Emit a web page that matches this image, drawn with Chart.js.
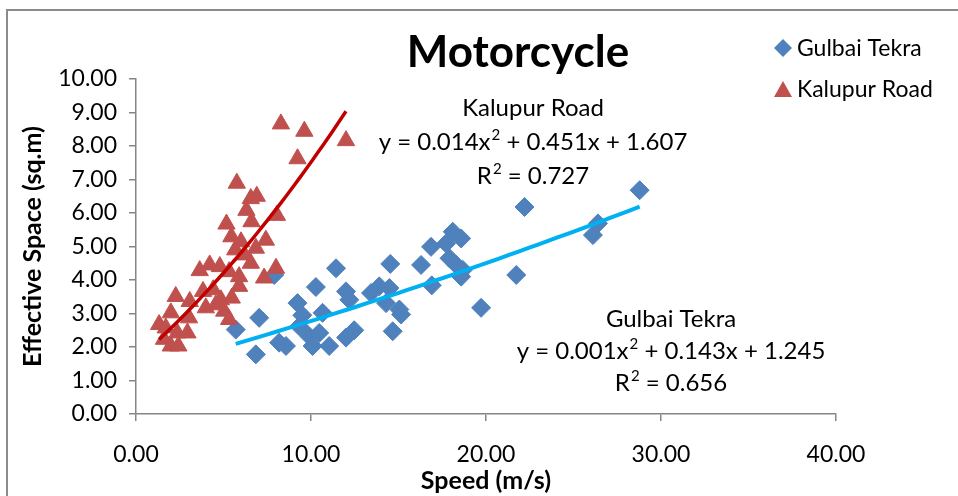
<!DOCTYPE html>
<html>
<head>
<meta charset="utf-8">
<title>Motorcycle</title>
<script src="https://cdn.jsdelivr.net/npm/chart.js@4.4.0/dist/chart.umd.min.js"></script>
<style>
  html, body { margin: 0; padding: 0; background: #fff; }
  #wrap { width: 958px; height: 496px; position: relative; }
</style>
</head>
<body>
<div id="wrap"><canvas id="chart" width="958" height="496"></canvas></div>
<script>
// Gulbai Tekra observations: speed (m/s) and effective space (sq.m)
const gulbaiSpeed = [5.70, 6.85, 7.04, 7.90, 8.18, 8.57, 9.23, 9.50, 9.33, 9.90, 10.09, 10.28, 10.47, 10.66, 11.04,
  11.43, 12.00, 12.19, 12.00, 12.47, 13.43, 13.90, 14.48, 14.29, 14.53, 14.67, 15.05, 15.15, 16.29, 16.86,
  16.90, 17.72, 17.91, 18.10, 18.30, 18.58, 18.68, 18.58, 19.72, 21.73, 22.20, 26.11, 26.40, 28.78];
const gulbaiSpace = [2.52, 1.78, 2.87, 4.15, 2.13, 2.03, 3.31, 2.95, 2.62, 2.32, 2.03, 3.79, 2.42, 3.02, 2.03,
  4.35, 3.66, 3.41, 2.28, 2.50, 3.61, 3.81, 3.76, 3.31, 4.48, 2.47, 3.12, 2.97, 4.45, 4.99,
  3.84, 5.09, 4.65, 5.44, 4.45, 5.24, 4.30, 4.10, 3.17, 4.15, 6.18, 5.34, 5.69, 6.68];

// Kalupur Road observations
const kalupurSpeed = [8.28, 9.62, 12.00, 9.23, 5.76, 6.56, 6.90, 6.31, 8.05, 6.60, 5.17, 5.45, 6.00, 7.42, 6.85,
  5.67, 6.20, 6.56, 8.00, 7.32, 4.21, 3.64, 4.79, 5.32, 5.89, 3.83, 4.41, 4.85, 5.47, 5.89,
  2.27, 3.07, 3.99, 4.56, 5.04, 5.32, 1.99, 3.03, 1.32, 1.70, 2.36, 2.94, 1.60, 1.99, 2.42];
const kalupurSpace = [8.66, 8.44, 8.16, 7.62, 6.89, 6.43, 6.50, 6.08, 5.93, 5.74, 5.67, 5.29, 5.14, 5.19, 4.95,
  4.90, 4.75, 4.50, 4.35, 4.06, 4.45, 4.28, 4.40, 4.25, 4.10, 3.66, 3.71, 3.41, 3.46, 3.81,
  3.51, 3.36, 3.17, 3.26, 3.07, 2.82, 3.02, 2.87, 2.67, 2.57, 2.42, 2.42, 2.23, 2.03, 2.03];

// polynomial trend lines: [c2, c1, c0] and the speed range they cover
const gulbaiFit = [0.001, 0.143, 1.245];
const gulbaiFitRange = [5.70, 28.78];
const kalupurFit = [0.014, 0.451, 1.607];
const kalupurFitRange = [1.32, 12.00];

const xTicks = [0, 10, 20, 30, 40];
const yTicks = [0, 1, 2, 3, 4, 5, 6, 7, 8, 9, 10];

// "^2" marks a superscript two
const gulbaiLabel = ['Gulbai Tekra', 'y = 0.001x^2 + 0.143x + 1.245', 'R^2 = 0.656'];
const kalupurLabel = ['Kalupur Road', 'y = 0.014x^2 + 0.451x + 1.607', 'R^2 = 0.727'];

const FONT = 'Lato, "Open Sans", sans-serif';
const BLUE = '#4F81BD';
const RED = '#C0504D';
const AXIS = '#868686';

function pairs(xs, ys) {
  return xs.map((x, i) => ({ x: x, y: ys[i] }));
}

function fitLine(c, range) {
  const pts = [];
  const n = 40;
  for (let i = 0; i <= n; i++) {
    const x = range[0] + (range[1] - range[0]) * i / n;
    pts.push({ x: x, y: c[0] * x * x + c[1] * x + c[2] });
  }
  return pts;
}

// centred text line with raised "2" wherever "^2" appears
function supText(ctx, text, cx, cy, size) {
  const parts = text.split('^2');
  const base = size + 'px ' + FONT;
  const sup = Math.round(size * 0.64) + 'px ' + FONT;
  ctx.font = base;
  let total = 0;
  parts.forEach((p, i) => {
    ctx.font = base; total += ctx.measureText(p).width;
    if (i < parts.length - 1) { ctx.font = sup; total += ctx.measureText('2').width + 1; }
  });
  let x = cx - total / 2;
  ctx.textAlign = 'left';
  parts.forEach((p, i) => {
    ctx.font = base; ctx.fillText(p, x, cy); x += ctx.measureText(p).width;
    if (i < parts.length - 1) {
      ctx.font = sup; ctx.fillText('2', x + 1, cy - size * 0.3);
      x += ctx.measureText('2').width + 1;
    }
  });
}

// frame, title, legend and the equation boxes
const decor = {
  id: 'decor',
  beforeDraw(chart) {
    const ctx = chart.ctx;
    ctx.save();
    ctx.strokeStyle = '#8c8c8c';
    ctx.lineWidth = 2;
    ctx.strokeRect(7, 10, 1000, 600);
    ctx.restore();
  },
  afterDraw(chart) {
    const ctx = chart.ctx;
    ctx.save();
    ctx.fillStyle = '#000';
    ctx.textAlign = 'center';
    ctx.textBaseline = 'middle';
    ctx.font = 'bold 44px ' + FONT;
    ctx.fillText('Motorcycle', 518, 53);

    kalupurLabel.forEach((t, i) => supText(ctx, t, 533, 108 + i * 34, 24));
    gulbaiLabel.forEach((t, i) => supText(ctx, t, 671, 319 + i * 32, 24));

    // legend
    ctx.fillStyle = BLUE;
    ctx.beginPath(); ctx.moveTo(774, 48); ctx.lineTo(783, 39); ctx.lineTo(792, 48); ctx.lineTo(783, 57); ctx.closePath(); ctx.fill();
    ctx.fillStyle = RED;
    ctx.beginPath(); ctx.moveTo(783, 81); ctx.lineTo(792, 97); ctx.lineTo(774, 97); ctx.closePath(); ctx.fill();
    ctx.fillStyle = '#000';
    ctx.textAlign = 'left';
    ctx.font = '23px ' + FONT;
    ctx.fillText('Gulbai Tekra', 797, 49);
    ctx.fillText('Kalupur Road', 797, 90);
    ctx.restore();
  }
};

const ctx = document.getElementById('chart').getContext('2d');
new Chart(ctx, {
  type: 'scatter',
  data: {
    datasets: [
      {
        label: 'Kalupur Road trend',
        data: fitLine(kalupurFit, kalupurFitRange),
        showLine: true,
        borderColor: '#C00000',
        borderWidth: 3.5,
        pointRadius: 0,
        order: 0
      },
      {
        label: 'Gulbai Tekra trend',
        data: fitLine(gulbaiFit, gulbaiFitRange),
        showLine: true,
        borderColor: '#00B0F0',
        borderWidth: 4,
        pointRadius: 0,
        order: 0
      },
      {
        label: 'Kalupur Road',
        data: pairs(kalupurSpeed, kalupurSpace),
        pointStyle: 'triangle',
        pointRadius: 10,
        backgroundColor: RED,
        borderColor: RED,
        borderWidth: 1,
        order: 1
      },
      {
        label: 'Gulbai Tekra',
        data: pairs(gulbaiSpeed, gulbaiSpace),
        pointStyle: 'rectRot',
        pointRadius: 9.5,
        backgroundColor: BLUE,
        borderColor: BLUE,
        borderWidth: 1,
        order: 2
      }
    ]
  },
  options: {
    responsive: false,
    animation: false,
    layout: { padding: { top: 79, right: 122, left: 8, bottom: 0 } },
    plugins: {
      legend: { display: false },
      title: { display: false },
      tooltip: { enabled: false }
    },
    scales: {
      x: {
        type: 'linear',
        min: 0,
        max: 40,
        afterBuildTicks: (s) => { s.ticks = xTicks.map(v => ({ value: v })); },
        afterFit: (s) => { s.height = 82; },
        ticks: {
          callback: (v) => Number(v).toFixed(2),
          color: '#000',
          font: { family: FONT, size: 23 },
          padding: 20,
          maxRotation: 0
        },
        grid: { drawOnChartArea: false, drawTicks: true, tickLength: 7, color: AXIS, lineWidth: 1.5 },
        border: { display: true, color: AXIS, width: 1.5 },
        title: {
          display: true,
          text: 'Speed (m/s)',
          color: '#000',
          font: { family: FONT, size: 25, weight: 'bold' },
          padding: { top: 2, bottom: 0 }
        }
      },
      y: {
        type: 'linear',
        min: 0,
        max: 10,
        afterBuildTicks: (s) => { s.ticks = yTicks.map(v => ({ value: v })); },
        afterFit: (s) => { s.width = 128; },
        ticks: {
          callback: (v) => Number(v).toFixed(2),
          color: '#000',
          font: { family: FONT, size: 23 },
          padding: 12
        },
        grid: { drawOnChartArea: false, drawTicks: true, tickLength: 7, color: AXIS, lineWidth: 1.5 },
        border: { display: true, color: AXIS, width: 1.5 },
        title: {
          display: true,
          text: 'Effective Space (sq.m)',
          color: '#000',
          font: { family: FONT, size: 25, weight: 'bold' },
          padding: { top: 10, bottom: 0 }
        }
      }
    }
  },
  plugins: [decor]
});
</script>
</body>
</html>
